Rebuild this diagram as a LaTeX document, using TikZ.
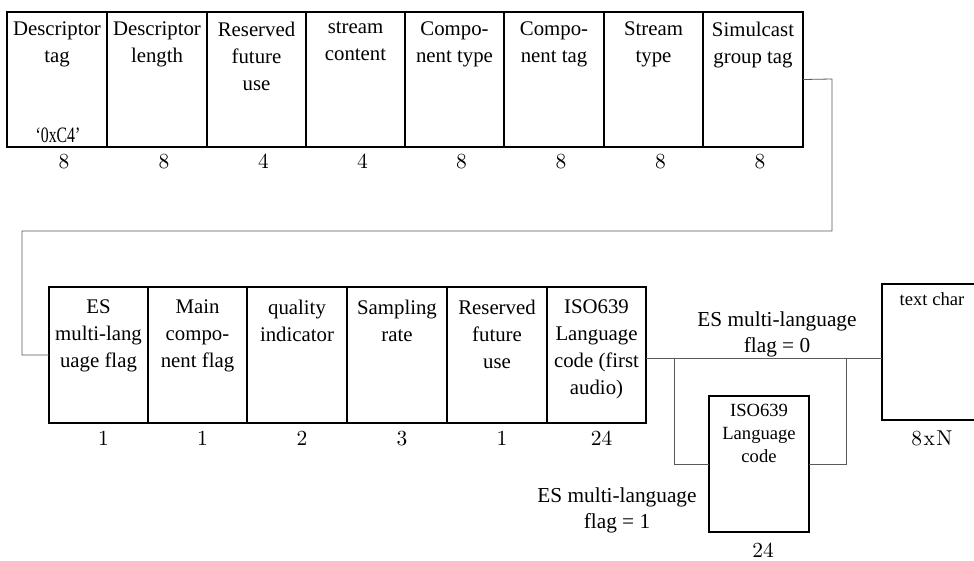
\documentclass[tikz,border=0pt]{standalone}
\usepackage{fontspec}
\newfontfamily\tms{Liberation Serif}[Ligatures=TeX]
\newfontfamily\lmn{lmroman10-regular}[Extension=.otf]
\tikzset{
  fbox/.style={draw=black, line width=1.3pt, rectangle, inner sep=0pt, outer sep=0pt, anchor=north west},
  ftext/.style={font=\tms\fontsize{20.8}{26.7}\selectfont, align=center, inner sep=0pt, anchor=north, execute at begin node=\strut},
  stext/.style={font=\tms\fontsize{18.6}{23}\selectfont, align=center, inner sep=0pt, anchor=north, execute at begin node=\strut},
  ltext/.style={font=\tms\fontsize{21.3}{26}\selectfont, align=center, inner sep=0pt, anchor=base},
  num/.style={font=\lmn\fontsize{21.5}{24}\selectfont, inner sep=0pt, anchor=base},
  conn/.style={draw=black!65, line width=0.8pt},
}
\begin{document}
\begin{tikzpicture}[x=1pt,y=-1pt]
\useasboundingbox (0,0) rectangle (974,560);
% top row
\foreach \n/\x/\w/\t/\b in {1/7/100/{Descriptor\\tag}/8, 2/107/100/{Descriptor\\length}/8, 3/207/99/{Reserved\\future\\use}/4, 4/306/99/{stream\\content}/4, 5/405/99/{Compo-\\nent type}/8, 6/504/100/{Compo-\\nent tag}/8, 7/604/99/{Stream\\type}/8, 8/703/100/{Simulcast\\group tag}/8}{
  \node[fbox, minimum width=\w pt, minimum height=135pt] (t\n) at (\x,12) {};
  \node[ftext] (tt\n) at ([yshift=-10pt]t\n.north) {\t};
  \node[num] (tn\n) at ([xshift=7pt,yshift=-21pt]t\n.south) {\b};
}
\node[font=\tms\fontsize{22}{24}\selectfont, inner sep=0pt, anchor=base, xscale=0.72] (hex) at (58,142) {‘0xC4’};
% bottom row
\foreach \n/\x/\w/\t/\b in {1/49/99/{ES\\multi-lang\\uage flag}/1, 2/148/99/{Main\\compo-\\nent flag}/1, 3/247/100/{quality\\indicator}/2, 4/347/100/{Sampling\\rate}/3, 5/447/100/{Reserved\\future\\use}/1, 6/547/99/{ISO639\\Language\\code (first\\audio)}/24}{
  \node[fbox, minimum width=\w pt, minimum height=136pt] (b\n) at (\x,287) {};
  \node[ftext] (bt\n) at ([yshift=-13pt]b\n.north) {\t};
  \node[num] (bn\n) at ([xshift=5pt,yshift=-22pt]b\n.south) {\b};
}
% language code box
\node[fbox, minimum width=100pt, minimum height=136pt] (lang) at (709,396) {};
\node[stext] (langt) at ([yshift=-8pt]lang.north) {ISO639\\Language\\code};
\node[num] (langn) at ([xshift=4pt,yshift=-25pt]lang.south) {24};
% text char box
\node[fbox, minimum width=100pt, minimum height=136pt] (tc) at (882,284) {};
\node[stext] (tct) at ([yshift=-5pt]tc.north) {text char};
\node[num] (tcn) at ([yshift=-25pt]tc.south) {8\kern1.5pt x\kern1.5pt N};
% labels
\node[ltext] (l0) at (777,352) {ES multi-language\\flag = 0};
\node[ltext] (l1) at (617,528) {ES multi-language\\flag = 1};
% connectors
\coordinate (c1) at (832,79);
\coordinate (c2) at (832,231);
\coordinate (c3) at (22,231);
\coordinate (c4) at (22,355);
\draw[conn] (t8.east) -- (c1) -- (c2) -- (c3) -- (c4) -- (b1.west);
\coordinate (j) at (0,358);
\coordinate (s1) at (674,358);
\coordinate (s2) at (674,464);
\coordinate (s3) at (846,464);
\coordinate (s4) at (846,358);
\draw[conn] (b6.east |- j) -- (tc.west |- j);
\draw[conn] (s1) -- (s2) -- (lang.west);
\draw[conn] (lang.east) -- (s3) -- (s4);
\end{tikzpicture}
\end{document}
